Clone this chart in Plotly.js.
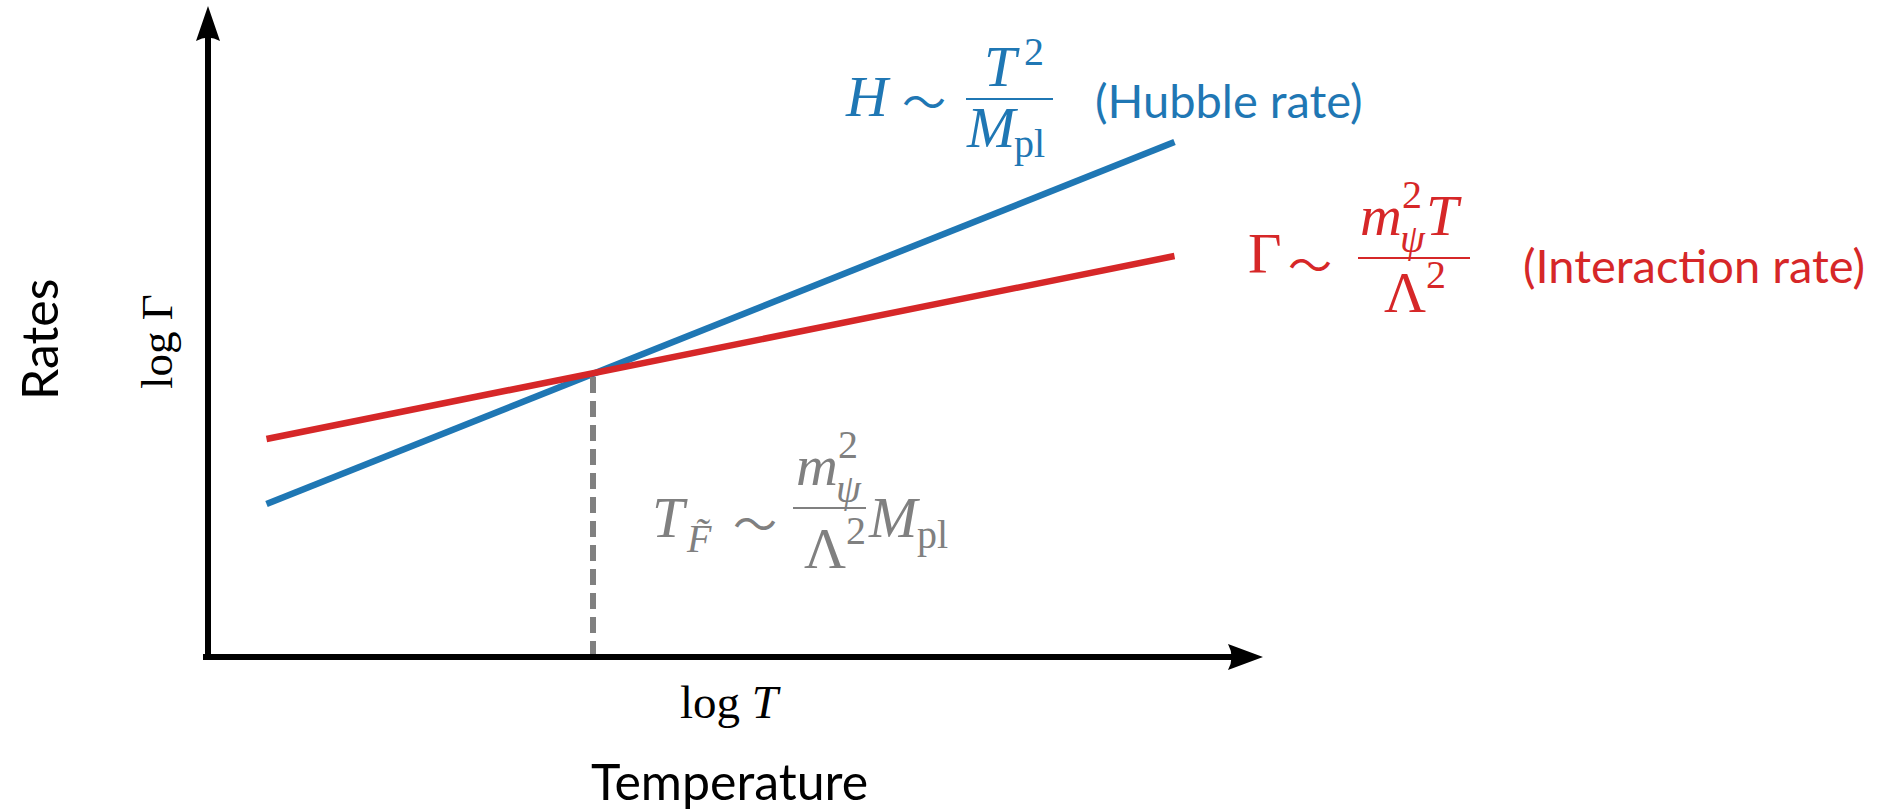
<!DOCTYPE html>
<html>
<head>
<meta charset="utf-8">
<script src="https://cdn.plot.ly/plotly-3.0.1.min.js"></script>
<style>html,body{margin:0;padding:0;background:#fff;}#chart{width:1898px;height:810px;}</style>
</head>
<body>
<div id="chart"></div>
<script>
// ---- data (arbitrary log units) ----
const logT = [0.585, 9.665];          // temperature range of the two rate lines
const logH = [1.53, 5.15];            // Hubble rate  H ~ T^2 / M_pl
const logGamma = [2.18, 4.01];        // interaction rate  Γ ~ m^2 T / Λ^2
const freezeT = [3.85, 3.85];         // freeze-out temperature (dashed marker)
const freezeRate = [0, 2.85];
const axisX = [-0.05, 10.55];         // horizontal axis extent (tip)
const axisY = [-0.03, 6.51];          // vertical axis extent (tip)

const W = 1898, H = 810;
const BLUE = '#1f77b4', RED = '#d62728', GRAY = '#808080';
const SERIF = '"Liberation Serif", "DejaVu Serif", serif';
const SANS = 'Lato, "Open Sans", sans-serif';
const TILDEF = '"Noto Sans CJK JP", "Liberation Serif", serif';

const traces = [
  {x: logT, y: logH, mode: 'lines', line: {color: BLUE, width: 6.5}, hoverinfo: 'skip'},
  {x: logT, y: logGamma, mode: 'lines', line: {color: RED, width: 6.5}, hoverinfo: 'skip'},
  {x: freezeT, y: freezeRate, mode: 'lines', line: {color: GRAY, width: 6, dash: '16px,8px'}, hoverinfo: 'skip'}
];

const px = v => v / W;
const py = v => 1 - v / H;
const ann = [];
function t(text, x, base, size, color, family, xanchor, k) {
  const kk = (k === undefined) ? (family === SANS ? 0.36 : 0.32) : k;
  ann.push({text: text, xref: 'paper', yref: 'paper', x: px(x), y: py(base - kk * size),
    xanchor: xanchor || 'left', yanchor: 'middle', showarrow: false,
    font: {size: size, color: color, family: family}});
}
function rot(text, cx, cy, size, color, family) {
  ann.push({text: text, xref: 'paper', yref: 'paper', x: px(cx), y: py(cy),
    xanchor: 'center', yanchor: 'middle', showarrow: false, textangle: -90,
    font: {size: size, color: color, family: family}});
}
const shapes = [];
function bar(x0, x1, y, color) {
  shapes.push({type: 'line', xref: 'paper', yref: 'paper', x0: px(x0), x1: px(x1), y0: py(y), y1: py(y),
    line: {color: color, width: 2}});
}

// axes with arrowheads
shapes.push({type: 'line', xref: 'x', yref: 'y', x0: axisX[0], x1: axisX[1] - 0.3, y0: 0, y1: 0,
  line: {color: '#000', width: 6}});
shapes.push({type: 'line', xref: 'x', yref: 'y', x0: 0, x1: 0, y0: axisY[0], y1: axisY[1] - 0.3,
  line: {color: '#000', width: 6}});
shapes.push({type: 'path', xref: 'x', yref: 'y', xsizemode: 'pixel', ysizemode: 'pixel',
  xanchor: axisX[1], yanchor: 0, path: 'M0,0 L-35,13 Q-28,0 -35,-13 Z',
  fillcolor: '#000', line: {width: 0}});
shapes.push({type: 'path', xref: 'x', yref: 'y', xsizemode: 'pixel', ysizemode: 'pixel',
  xanchor: 0, yanchor: axisY[1], path: 'M0,0 L-12,-35 Q0,-28 12,-35 Z',
  fillcolor: '#000', line: {width: 0}});

// axis labels
rot('Rates', 39, 340, 50, '#000', SANS);
rot('log Γ', 157, 342, 45, '#000', SERIF);
t('log <i>T</i>', 730, 717, 47, '#000', SERIF, 'center');
t('Temperature', 729, 799, 50, '#000', SANS, 'center');

// Hubble rate label
const MS = 58, SS = 40, TS = 44;
t('<i>H</i>', 843, 115, MS, BLUE, SERIF);
t('〜', 924, 100, TS, BLUE, TILDEF, 'center', 0);
bar(966, 1053, 99, BLUE);
t('<i>T</i>', 982, 85, MS, BLUE, SERIF);
t('2', 1022, 64, SS, BLUE, SERIF);
t('<i>M</i>', 964, 146, MS, BLUE, SERIF);
t('pl', 1012, 156, SS, BLUE, SERIF);
t('(Hubble rate)', 1093, 117, 47, BLUE, SANS);

// Interaction rate label
t('Γ', 1246, 272, MS, RED, SERIF);
t('〜', 1310, 263, TS, RED, TILDEF, 'center', 0);
bar(1358, 1470, 258, RED);
t('<i>m</i>', 1358, 234, MS, RED, SERIF);
t('2', 1400, 207, SS, RED, SERIF);
t('<i>ψ</i>', 1398, 251, SS, RED, SERIF);
t('<i>T</i>', 1424, 234, MS, RED, SERIF);
t('Λ', 1382, 311, MS, RED, SERIF);
t('2', 1424, 287, SS, RED, SERIF);
t('(Interaction rate)', 1521, 282, 47, RED, SANS);

// freeze-out temperature label
t('<i>T</i>', 650, 536, MS, GRAY, SERIF);
t('<i>F\u0303</i>', 684, 551, SS, GRAY, SERIF);
t('〜', 755, 522, TS, GRAY, TILDEF, 'center', 0);
bar(793, 866, 508, GRAY);
t('<i>m</i>', 794, 484, MS, GRAY, SERIF);
t('2', 836, 457, SS, GRAY, SERIF);
t('<i>ψ</i>', 834, 501, SS, GRAY, SERIF);
t('Λ', 802, 567, MS, GRAY, SERIF);
t('2', 844, 543, SS, GRAY, SERIF);
t('<i>M</i>', 866, 536, MS, GRAY, SERIF);
t('pl', 915, 547, SS, GRAY, SERIF);

const layout = {
  width: W, height: H,
  margin: {l: 0, r: 0, t: 0, b: 0},
  paper_bgcolor: '#fff', plot_bgcolor: '#fff',
  showlegend: false,
  xaxis: {range: [-2.08, 16.90], visible: false, fixedrange: true},
  yaxis: {range: [-1.53, 6.57], visible: false, fixedrange: true},
  shapes: shapes,
  annotations: ann
};
Plotly.newPlot('chart', traces, layout, {staticPlot: true, displayModeBar: false});
</script>
</body>
</html>
